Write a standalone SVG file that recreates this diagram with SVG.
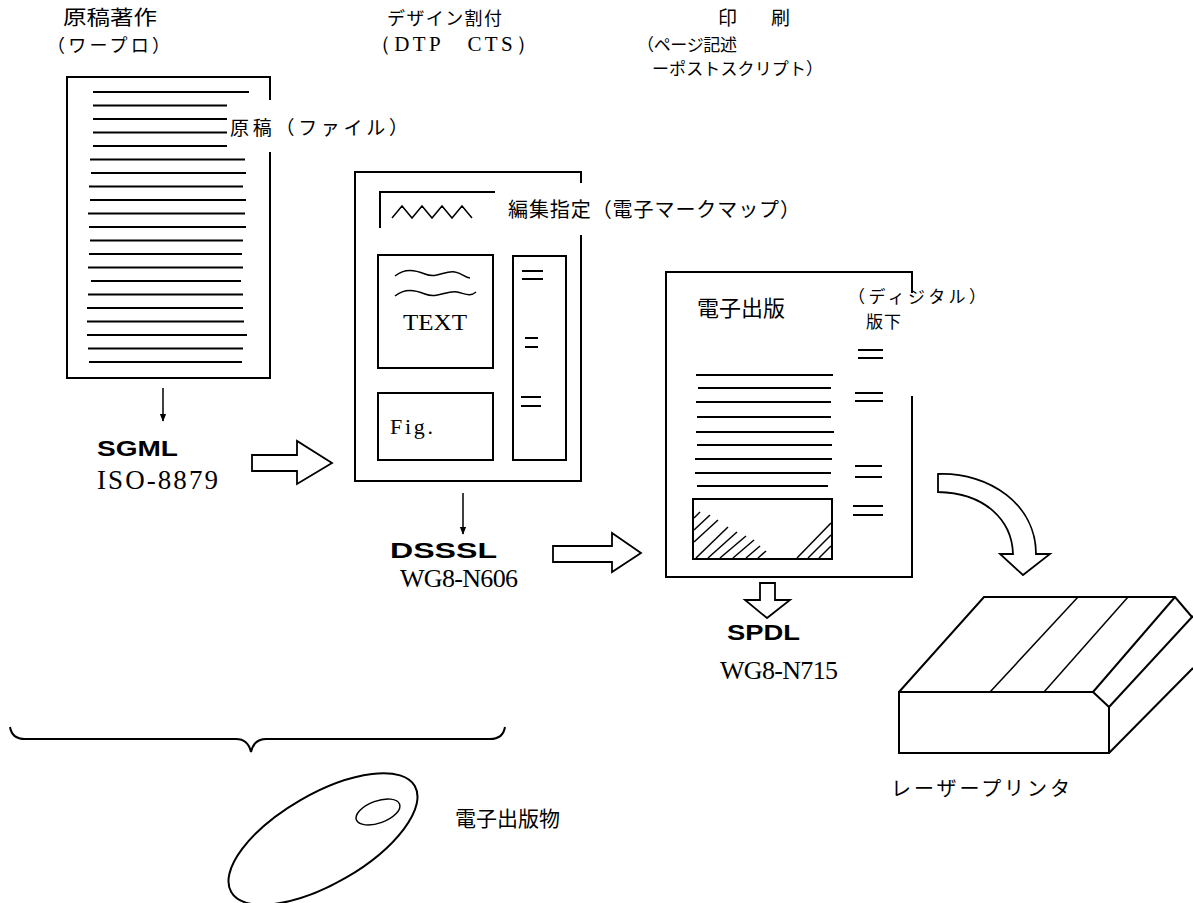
<svg xmlns="http://www.w3.org/2000/svg" width="1193" height="903" viewBox="0 0 1193 903">
  <defs>
    <marker id="arrowHead" viewBox="0 0 10 10" refX="9" refY="5" markerWidth="8" markerHeight="10" markerUnits="userSpaceOnUse" orient="auto">
      <path d="M0,1 L10,5 L0,9 Z" fill="#000"/>
    </marker>
  </defs>
  <style>
    .ln { stroke: #000; stroke-width: 2; fill: none; }
    .thin { stroke: #000; stroke-width: 1.5; fill: none; }
    .hollow { stroke: #000; stroke-width: 1.8; fill: #fff; stroke-linejoin: miter; }
    .jp { font-family: "Noto Sans CJK JP", "Noto Sans", sans-serif; fill: #000; }
    .serif { font-family: "Liberation Serif", "DejaVu Serif", serif; fill: #000; }
    .bold { font-family: "Liberation Sans", "DejaVu Sans", sans-serif; font-weight: bold; fill: #000; }
  </style>
  <rect width="1193" height="903" fill="#fff"/>

  <!-- column headings -->
  <g id="heading-authoring">
    <text class="jp" x="63" y="25" font-size="20" textLength="94" lengthAdjust="spacingAndGlyphs">原稿著作</text>
    <text class="jp" x="47" y="52" font-size="18" textLength="123" lengthAdjust="spacing">（ワープロ）</text>
  </g>
  <g id="heading-layout">
    <text class="jp" x="387" y="25" font-size="18" textLength="115" lengthAdjust="spacing">デザイン割付</text>
    <text class="serif" x="370" y="51" font-size="21" textLength="167" lengthAdjust="spacing">（DTP　CTS）</text>
  </g>
  <g id="heading-print">
    <text class="jp" x="718" y="25" font-size="19" textLength="72" lengthAdjust="spacing">印　刷</text>
    <text class="jp" x="637" y="51" font-size="17" textLength="100" lengthAdjust="spacing">（ページ記述</text>
    <text class="jp" x="652" y="75" font-size="17" textLength="171" lengthAdjust="spacing">ーポストスクリプト）</text>
  </g>

  <!-- manuscript page -->
  <g id="manuscript">
    <path class="ln" d="M270,100 L270,77 L67,77 L67,378 L270,378 L270,152"/>
    <g class="ln">
      <line x1="93" y1="92" x2="249" y2="92"/>
      <line x1="93" y1="105.5" x2="227" y2="105.5"/>
      <line x1="93" y1="119" x2="227" y2="119"/>
      <line x1="93" y1="132.5" x2="227" y2="132.5"/>
      <line x1="93" y1="146" x2="227" y2="146"/>
      <line x1="90" y1="159.5" x2="245" y2="159.5"/>
      <line x1="91" y1="173" x2="246" y2="173"/>
      <line x1="89" y1="186.5" x2="243" y2="186.5"/>
      <line x1="90" y1="200" x2="246" y2="200"/>
      <line x1="88" y1="213.5" x2="245" y2="213.5"/>
      <line x1="89" y1="227" x2="246" y2="227"/>
      <line x1="90" y1="240.5" x2="243" y2="240.5"/>
      <line x1="89" y1="254" x2="242" y2="254"/>
      <line x1="88" y1="267.5" x2="243" y2="267.5"/>
      <line x1="91" y1="281" x2="241" y2="281"/>
      <line x1="88" y1="294.5" x2="243" y2="294.5"/>
      <line x1="87" y1="308" x2="243" y2="308"/>
      <line x1="87" y1="321.5" x2="244" y2="321.5"/>
      <line x1="87" y1="335" x2="247" y2="335"/>
      <line x1="88" y1="348.5" x2="243" y2="348.5"/>
      <line x1="89" y1="362" x2="242" y2="362"/>
    </g>
    <text class="jp" x="230" y="135" font-size="19" textLength="178" lengthAdjust="spacing">原稿（ファイル）</text>
  </g>

  <g id="sgml-label">
    <text class="bold" x="97" y="456" font-size="22" textLength="81" lengthAdjust="spacingAndGlyphs">SGML</text>
    <text class="serif" x="97" y="489" font-size="27" textLength="121" lengthAdjust="spacing">ISO-8879</text>
  </g>

  <!-- layout page -->
  <g id="layout-page">
    <path class="ln" d="M581,183 L581,172 L355,172 L355,481 L581,481 L581,235"/>
    <path class="ln" d="M380,228 L380,192 L495,192"/>
    <polyline class="thin" points="392,218 402,206 412,218 422,206 432,218 442,206 452,218 462,206 472,218"/>
    <rect class="ln" x="378" y="255" width="115" height="113"/>
    <path class="thin" d="M395,276 C405,268 415,270 425,274 C437,279 445,270 455,272 C462,273 465,278 470,278"/>
    <path class="thin" d="M395,296 C405,288 415,290 425,294 C437,299 447,290 457,292 C466,294 470,297 476,292"/>
    <text class="serif" x="403" y="330" font-size="23" textLength="64" lengthAdjust="spacingAndGlyphs">TEXT</text>
    <rect class="ln" x="378" y="393" width="115" height="67"/>
    <text class="serif" x="390" y="434" font-size="22" textLength="43" lengthAdjust="spacing">Fig.</text>
    <rect class="ln" x="513" y="256" width="53" height="204"/>
    <g class="ln">
      <line x1="522" y1="271" x2="543" y2="271"/>
      <line x1="522" y1="279" x2="543" y2="279"/>
      <line x1="525" y1="338" x2="538" y2="338"/>
      <line x1="525" y1="347" x2="538" y2="347"/>
      <line x1="521" y1="397" x2="541" y2="397"/>
      <line x1="521" y1="406" x2="541" y2="406"/>
    </g>
    <text class="jp" x="508" y="217" font-size="20" textLength="292" lengthAdjust="spacing">編集指定（電子マークマップ）</text>
  </g>

  <g id="dsssl-label">
    <text class="bold" x="390" y="558" font-size="22" textLength="107" lengthAdjust="spacingAndGlyphs">DSSSL</text>
    <text class="serif" x="400" y="587" font-size="26" textLength="118" lengthAdjust="spacing">WG8-N606</text>
  </g>

  <!-- finished page -->
  <g id="output-page">
    <path class="ln" d="M912,293 L912,272 L666,272 L666,577 L912,577 L912,396"/>
    <text class="jp" x="697" y="316" font-size="22" textLength="88" lengthAdjust="spacing">電子出版</text>
    <g class="ln">
      <line x1="696" y1="375" x2="833" y2="375"/>
      <line x1="698" y1="388" x2="831" y2="388"/>
      <line x1="696" y1="402" x2="831" y2="402"/>
      <line x1="697" y1="417" x2="831" y2="417"/>
      <line x1="696" y1="432" x2="834" y2="432"/>
      <line x1="697" y1="445" x2="832" y2="445"/>
      <line x1="695" y1="459" x2="832" y2="459"/>
      <line x1="695" y1="473" x2="831" y2="473"/>
      <line x1="697" y1="486" x2="828" y2="486"/>
    </g>
    <rect class="ln" x="693" y="499" width="139" height="60"/>
    <g class="thin">
      <line x1="694" y1="518" x2="700" y2="512"/>
      <line x1="694" y1="530" x2="710" y2="515"/>
      <line x1="694" y1="542" x2="718" y2="520"/>
      <line x1="696" y1="558" x2="728" y2="527"/>
      <line x1="708" y1="558" x2="737" y2="532"/>
      <line x1="720" y1="558" x2="746" y2="536"/>
      <line x1="733" y1="558" x2="754" y2="540"/>
      <line x1="746" y1="558" x2="760" y2="546"/>
      <line x1="758" y1="558" x2="766" y2="551"/>
      <line x1="797" y1="558" x2="831" y2="523"/>
      <line x1="808" y1="558" x2="831" y2="535"/>
      <line x1="819" y1="558" x2="831" y2="546"/>
    </g>
    <g class="ln">
      <line x1="858" y1="350" x2="883" y2="350"/>
      <line x1="858" y1="358" x2="883" y2="358"/>
      <line x1="855" y1="393" x2="883" y2="393"/>
      <line x1="855" y1="401" x2="883" y2="401"/>
      <line x1="855" y1="466" x2="882" y2="466"/>
      <line x1="855" y1="477" x2="882" y2="477"/>
      <line x1="853" y1="506" x2="883" y2="506"/>
      <line x1="853" y1="515" x2="883" y2="515"/>
    </g>
    <text class="jp" x="848" y="303" font-size="17" textLength="138" lengthAdjust="spacing">（ディジタル）</text>
    <text class="jp" x="866" y="328" font-size="17" textLength="35" lengthAdjust="spacing">版下</text>
  </g>

  <g id="spdl-label">
    <text class="bold" x="727" y="640" font-size="22" textLength="73" lengthAdjust="spacingAndGlyphs">SPDL</text>
    <text class="serif" x="720" y="679" font-size="26" textLength="118" lengthAdjust="spacing">WG8-N715</text>
  </g>

  <!-- laser printer -->
  <g id="printer">
    <path class="ln" d="M899,692 L1093,692 L1109,707 L1109,753 L899,753 Z"/>
    <path class="ln" d="M899,692 L984,597 L1175,597 L1192,617"/>
    <line class="ln" x1="1093" y1="692" x2="1175" y2="597"/>
    <line class="ln" x1="1109" y1="707" x2="1193" y2="616"/>
    <line class="ln" x1="1109" y1="753" x2="1193" y2="668"/>
    <line class="thin" x1="990" y1="692" x2="1078" y2="597"/>
    <line class="thin" x1="1044" y1="692" x2="1128" y2="597"/>
    <text class="jp" x="891" y="796" font-size="20" textLength="179" lengthAdjust="spacing">レーザープリンタ</text>
  </g>

  <!-- electronic publication disc -->
  <g id="disc">
    <path class="ln" d="M10,727 Q12,739 25,739 L236,739 Q248,739 251,752 Q254,739 266,739 L490,739 Q503,739 505,727"/>
    <ellipse class="ln" cx="323" cy="839" rx="106" ry="45" transform="rotate(-30 323 839)"/>
    <ellipse class="thin" cx="378" cy="812" rx="23" ry="11" transform="rotate(-20 378 812)"/>
    <text class="jp" x="455" y="826" font-size="21" textLength="105" lengthAdjust="spacing">電子出版物</text>
  </g>

  <!-- flow connectors -->
  <g id="connectors">
    <line class="thin" x1="163" y1="388" x2="163" y2="421" marker-end="url(#arrowHead)"/>
    <line class="thin" x1="463" y1="493" x2="463" y2="534" marker-end="url(#arrowHead)"/>
    <polygon class="hollow" points="252,455 297,455 297,441 332,463 297,484 297,471 252,471"/>
    <polygon class="hollow" points="553,546 612,546 612,533 641,553 612,572 612,562 553,562"/>
    <polygon class="hollow" points="760,583 775,583 775,600 790,600 767,618 745,600 760,600"/>
    <path class="hollow" d="M938,474 C990,472 1036,505 1036,554 L1050,554 L1023,575 L1000,554 L1013,554 C1012,520 985,493 938,492 Z"/>
  </g>
</svg>
